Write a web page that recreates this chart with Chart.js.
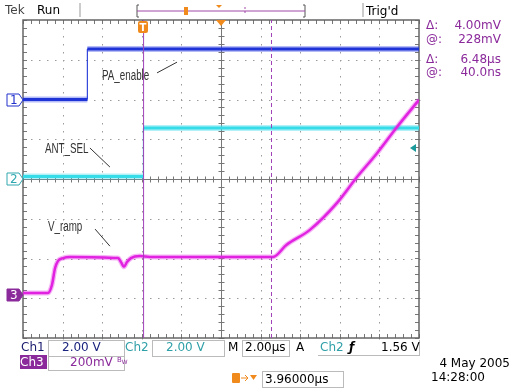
<!DOCTYPE html>
<html>
<head>
<meta charset="utf-8">
<script src="https://cdn.jsdelivr.net/npm/chart.js@4"></script>
<style>
  body { margin: 0; background: #fff; }
  #scope { position: relative; width: 514px; height: 391px; overflow: hidden; background: #fff;
           font-family: "DejaVu Sans", Verdana, sans-serif; font-size: 12px; }
  #scope canvas { position: absolute; left: 0; top: 0; }
  .t { position: absolute; white-space: nowrap; line-height: 14px; }
  .box { position: absolute; border: 1px solid #bbb; height: 15px; }
  .lbl { position: absolute; white-space: nowrap; font-family: "Liberation Sans", sans-serif;
         font-size: 14px; color: #333; line-height: 14px; transform: scaleX(0.7); transform-origin: left center; }
  .rd { color: #8b2a9b; }
</style>
</head>
<body>
<div id="scope">
  <canvas id="chart" width="514" height="391"></canvas>
  <svg width="514" height="391" style="position:absolute;left:0;top:0">
    <!-- status bar bracket -->
    <line x1="80" y1="3" x2="80" y2="17" stroke="#999"/>
    <line x1="363" y1="3" x2="363" y2="17" stroke="#999"/>
    <path d="M139 5 L137 5 L137 17 L139 17 M303 5 L305 5 L305 17 L303 17" stroke="#555" fill="none"/>
    <line x1="137" y1="11" x2="305" y2="11" stroke="#a04aa8"/>
    <line x1="245" y1="7" x2="245" y2="15" stroke="#a04aa8" stroke-dasharray="2,2"/>
    <rect x="184" y="7" width="4" height="8" fill="#f08a1c"/>
    <path d="M216 5 L222 5 L219 8 Z" fill="#f08a1c"/>
    <!-- trigger position markers on graticule -->
    <rect x="138" y="21" width="10" height="12" rx="2" fill="#f08a1c"/>
    <text x="143" y="31" font-size="10" fill="#fff" text-anchor="middle" font-family="DejaVu Sans" font-weight="bold">T</text>
    <path d="M216 20 L226 20 L221 26 Z" fill="#f08a1c"/>
    <!-- trigger level arrow -->
    <path d="M410 148 L416 144 L416 152 Z" fill="#1a9a9a"/>
    <!-- channel ground markers -->
    <path d="M7 94 L19 94 L23 100 L19 106 L7 106 Z" fill="#fff" stroke="#2233cc"/>
    <path d="M7 173 L19 173 L23 179 L19 185 L7 185 Z" fill="#fff" stroke="#30a8b0"/>
    <path d="M7 289 L19 289 L23 295 L19 301 L7 301 Z" fill="#8b2a9b" stroke="#8b2a9b"/>
    <!-- bottom row marker -->
    <rect x="232" y="373" width="8" height="10" rx="1" fill="#f08a1c"/>
    <path d="M241 378 L248 378 M245 375 L248 378 L245 381" stroke="#f08a1c" fill="none"/>
    <path d="M250 375 L257 375 L253.5 380 Z" fill="#f08a1c"/>
  </svg>

  <div class="t" style="left:5px;top:3px;color:#444">Tek</div>
  <div class="t" style="left:37px;top:3px">Run</div>
  <div class="t" style="left:366px;top:4px">Trig'd</div>

  <div class="t" style="left:10px;top:93px;color:#2233cc">1</div>
  <div class="t" style="left:10px;top:172px;color:#30a8b0">2</div>
  <div class="t" style="left:10px;top:288px;color:#fff">3</div>

  <div class="t rd" style="left:426px;top:18px">Δ:</div>
  <div class="t rd" style="left:426px;top:32px">@:</div>
  <div class="t rd" style="left:426px;top:52px">Δ:</div>
  <div class="t rd" style="left:426px;top:65px">@:</div>
  <div class="t rd" style="right:13px;top:18px">4.00mV</div>
  <div class="t rd" style="right:13px;top:32px">228mV</div>
  <div class="t rd" style="right:13px;top:52px">6.48µs</div>
  <div class="t rd" style="right:13px;top:65px">40.0ns</div>

  <div class="lbl" style="left:102px;top:68px">PA_enable</div>
  <div class="lbl" style="left:45px;top:141px">ANT_SEL</div>
  <div class="lbl" style="left:48px;top:219px">V_ramp</div>

  <div class="box" style="left:48px;top:340px;width:75px"></div>
  <div class="box" style="left:152px;top:340px;width:71px"></div>
  <div class="box" style="left:242px;top:340px;width:46px"></div>
  <div class="box" style="left:318px;top:340px;width:101px;border-left:none;border-top:none;border-bottom:1px solid #bbb"></div>
  <div class="box" style="left:48px;top:355px;width:75px;border-top:none"></div>
  <div class="box" style="left:262px;top:371px;width:80px"></div>

  <div class="t" style="left:21px;top:340px;color:#1a1a6e">Ch1</div>
  <div class="t" style="left:62px;top:340px;color:#1a237e">2.00 V</div>
  <div class="t" style="left:125px;top:340px;color:#30a0a8">Ch2</div>
  <div class="t" style="left:166px;top:340px;color:#30a0a8">2.00 V</div>
  <div class="t" style="left:228px;top:340px">M</div>
  <div class="t" style="left:245px;top:340px">2.00µs</div>
  <div class="t" style="left:296px;top:340px">A</div>
  <div class="t" style="left:320px;top:340px;color:#30a0a8">Ch2</div>
  <div class="t" style="left:349px;top:340px;font-style:italic;font-weight:bold">ƒ</div>
  <div class="t" style="left:381px;top:340px">1.56 V</div>
  <div class="t" style="left:20px;top:355px;width:27px;background:#8b2a9b;color:#fff">Ch3</div>
  <div class="t" style="left:70px;top:355px;color:#8b2a9b">200mV</div>
  <div class="t" style="left:117px;top:353px;color:#8b2a9b;font-size:7px">B<sub>W</sub></div>
  <div class="t" style="left:265px;top:372px">3.96000µs</div>
  <div class="t" style="right:4px;top:356px">4 May 2005</div>
  <div class="t" style="left:431px;top:370px">14:28:00</div>
</div>

<script>
// time axis in µs (2 µs/div, 10 div), vertical axis in divisions (-4..4)
const timeRange = [0, 20];
const divRange = [-4, 4];

// Ch1 PA_enable (blue)
const ch1Time = [0, 3.25, 3.25, 20];
const ch1Div = [2.0, 2.0, 3.27, 3.27];

// Ch2 ANT_SEL (cyan)
const ch2Time = [0, 6.08, 6.08, 20];
const ch2Div = [0.06, 0.06, 1.28, 1.28];

// Ch3 V_ramp (magenta)
const ch3Time = [0, 1.26, 1.46, 1.62, 1.77, 2.02, 2.37, 4.80, 4.95, 5.10, 5.25, 5.45, 5.91, 6.41,
                 12.63, 13.3, 14.49, 15.86, 16.87, 17.88, 18.89, 20];
const ch3Div = [-2.87, -2.87, -2.67, -2.24, -2.06, -1.99, -1.96, -1.99, -2.09, -2.21, -2.09, -1.99, -1.94, -1.96,
                -1.96, -1.66, -1.28, -0.60, 0.05, 0.65, 1.31, 1.99];

// time cursors: solid and dashed
const cursorTimes = [6.09, 12.55];

// leader lines for labels [t1, y1, t2, y2]
const leaders = [
  [6.77, 2.67, 7.78, 2.94],
  [3.38, 0.78, 4.39, 0.30],
  [3.64, -1.26, 4.39, -1.69]
];

const pts = (xs, ys) => xs.map((x, i) => ({ x, y: ys[i] }));
const thinEdge = w => ({ borderWidth: c => c.p0.parsed.x === c.p1.parsed.x ? 1 : w });

// Tek style graticule: dotted grid, center cross with ticks, border ticks
const graticule = {
  id: "graticule",
  beforeDatasetsDraw(chart) {
    const { ctx, chartArea: a, scales: { x, y } } = chart;
    ctx.save();
    ctx.fillStyle = "#9a9a9a";
    for (let t = 2; t < 20; t += 2) {
      if (t === 10) continue;
      const px = Math.round(x.getPixelForValue(t));
      for (let v = -4; v <= 4.001; v += 0.2) ctx.fillRect(px, Math.round(y.getPixelForValue(v)), 1, 1.5);
    }
    for (let d = -3; d <= 3; d++) {
      if (d === 0) continue;
      const py = Math.round(y.getPixelForValue(d));
      for (let t = 0; t <= 20.001; t += 0.4) ctx.fillRect(Math.round(x.getPixelForValue(t)), py, 1.5, 1);
    }
    ctx.strokeStyle = "#777";
    ctx.lineWidth = 1;
    const cx = Math.round(x.getPixelForValue(10)) + 0.5;
    const cy = Math.round(y.getPixelForValue(0)) + 0.5;
    ctx.beginPath();
    ctx.moveTo(cx, a.top); ctx.lineTo(cx, a.bottom);
    ctx.moveTo(a.left, cy); ctx.lineTo(a.right, cy);
    for (let t = 0; t <= 20.001; t += 0.4) {
      const px = Math.round(x.getPixelForValue(t)) + 0.5;
      ctx.moveTo(px, cy - 3); ctx.lineTo(px, cy + 3);
      ctx.moveTo(px, a.top); ctx.lineTo(px, a.top + 4);
      ctx.moveTo(px, a.bottom); ctx.lineTo(px, a.bottom - 4);
    }
    for (let v = -4; v <= 4.001; v += 0.2) {
      const py = Math.round(y.getPixelForValue(v)) + 0.5;
      ctx.moveTo(cx - 3, py); ctx.lineTo(cx + 3, py);
      ctx.moveTo(a.left, py); ctx.lineTo(a.left + 4, py);
      ctx.moveTo(a.right, py); ctx.lineTo(a.right - 4, py);
    }
    ctx.stroke();
    ctx.strokeStyle = "#666";
    ctx.lineWidth = 1.5;
    ctx.strokeRect(a.left, a.top, a.right - a.left, a.bottom - a.top);
    ctx.restore();
  },
  afterDatasetsDraw(chart) {
    const { ctx, scales: { x, y } } = chart;
    ctx.save();
    ctx.strokeStyle = "#333";
    ctx.lineWidth = 1;
    ctx.beginPath();
    leaders.forEach(([t1, v1, t2, v2]) => {
      ctx.moveTo(x.getPixelForValue(t1), y.getPixelForValue(v1));
      ctx.lineTo(x.getPixelForValue(t2), y.getPixelForValue(v2));
    });
    ctx.stroke();
    ctx.restore();
  }
};

const cursorSet = (t, dash) => ({
  data: pts([t, t], divRange),
  borderColor: "#a040b8", borderWidth: 1, borderDash: dash, order: 0
});

new Chart(document.getElementById("chart"), {
  type: "line",
  data: {
    datasets: [
      { data: pts(ch1Time, ch1Div), borderColor: "rgba(40,60,230,0.35)", borderWidth: 6, segment: thinEdge(6), order: 3 },
      { data: pts(ch1Time, ch1Div), borderColor: "#1a30d0", borderWidth: 3, segment: thinEdge(3), order: 3 },
      { data: pts(ch2Time, ch2Div), borderColor: "rgba(60,220,235,0.4)", borderWidth: 6, segment: thinEdge(6), order: 2 },
      { data: pts(ch2Time, ch2Div), borderColor: "#33dde6", borderWidth: 3, segment: thinEdge(3), order: 2 },
      { data: pts(ch3Time, ch3Div), borderColor: "rgba(225,40,225,0.35)", borderWidth: 5, cubicInterpolationMode: "monotone", order: 1 },
      { data: pts(ch3Time, ch3Div), borderColor: "#e020e0", borderWidth: 2.5, cubicInterpolationMode: "monotone", order: 1 },
      cursorSet(cursorTimes[0], []),
      cursorSet(cursorTimes[1], [4, 3])
    ]
  },
  options: {
    responsive: false,
    animation: false,
    layout: { padding: { left: 23, top: 20, right: 95, bottom: 53 } },
    elements: { point: { radius: 0 }, line: { fill: false } },
    scales: {
      x: { type: "linear", min: timeRange[0], max: timeRange[1], display: false },
      y: { min: divRange[0], max: divRange[1], display: false }
    },
    plugins: { legend: { display: false }, tooltip: { enabled: false } }
  },
  plugins: [graticule]
});
</script>
</body>
</html>
